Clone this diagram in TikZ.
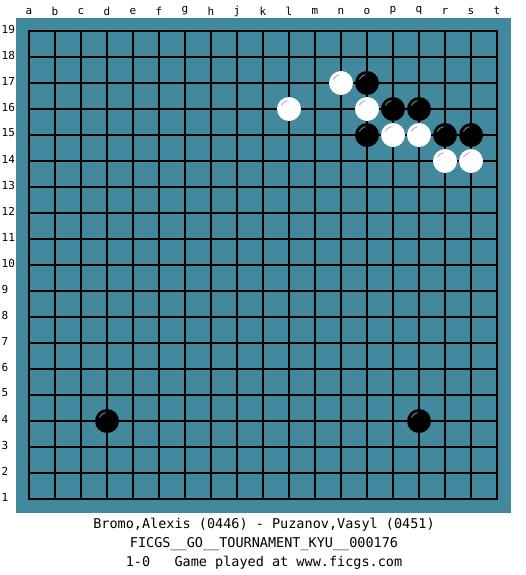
\documentclass[tikz,border=0pt]{standalone}
\usepackage{fontspec}
\setmonofont{DejaVu Sans Mono}
\definecolor{board}{RGB}{67,137,158}
\definecolor{hlblack}{RGB}{90,130,160}
\definecolor{hlwhite}{RGB}{175,185,190}
\begin{document}
\begin{tikzpicture}[x=1pt,y=-1pt,
  lbl/.style={font=\fontsize{11}{11}\selectfont\ttfamily, inner sep=0pt},
  caption/.style={font=\fontsize{13.5}{13.5}\selectfont\ttfamily, inner sep=0pt},
  gridline/.style={line width=2pt, line cap=rect, black},
  stoneb/.style={circle, fill=black, minimum size=24pt, inner sep=0pt},
  stonew/.style={circle, fill=white, minimum size=24pt, inner sep=0pt},
  hlb/.style={draw=hlblack, line width=1pt},
  hlw/.style={draw=hlwhite, line width=1pt}]
\useasboundingbox[fill=white] (0,0) rectangle (525,575);
\fill[board] (16,18) rectangle (511,513);
\foreach \i in {0,...,18} {
  \draw[gridline] (29+26*\i,31) -- (29+26*\i,499);
  \draw[gridline] (29,31+26*\i) -- (497,31+26*\i);
}
\foreach \l [count=\k from 0] in {a,b,c,d,e,f,g,h,j,k,l,m,n,o,p,q,r,s,t} {
  \node[lbl] (col\l) at (29+26*\k,11) {\l};
}
\foreach \r in {1,...,19} {
  \node[lbl, anchor=west] (row\r) at (1.5,29+26*19-26*\r) {\r};
}
\foreach \n/\x/\y in {n17/341/83, l16/289/109, o16/367/109, p15/393/135, q15/419/135, r14/445/161, s14/471/161} {
  \node[stonew] (\n) at (\x,\y) {};
  \draw[hlw] ([shift={(155:8.5pt)}]\n.center) arc[start angle=155, end angle=100, radius=8.5pt];
}
\foreach \n/\x/\y in {o17/367/83, p16/393/109, q16/419/109, o15/367/135, r15/445/135, s15/471/135, d4/107/421, q4/419/421} {
  \node[stoneb] (\n) at (\x,\y) {};
  \draw[hlb] ([shift={(155:8.5pt)}]\n.center) arc[start angle=155, end angle=100, radius=8.5pt];
}
\node[caption] (players) at (264,525) {Bromo,Alexis (0446) - Puzanov,Vasyl (0451)};
\node[caption] (event) at (264,544) {FICGS\_\_GO\_\_TOURNAMENT\_KYU\_\_000176};
\node[caption] (result) at (264,563) {1-0\ \ \ Game played at www.ficgs.com};
\end{tikzpicture}
\end{document}
